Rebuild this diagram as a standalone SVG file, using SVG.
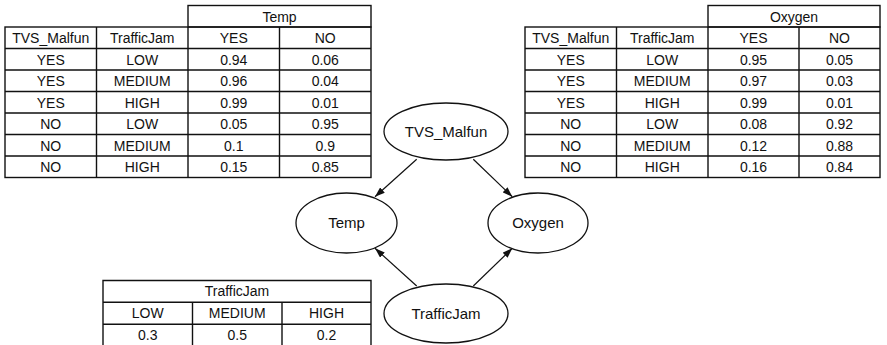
<svg xmlns="http://www.w3.org/2000/svg" width="887" height="345" viewBox="0 0 887 345">
  <style>
    .grid { fill: none; stroke: #111; stroke-width: 1.4; }
    .t { font-family: "Liberation Sans", Arial, Helvetica, sans-serif; font-size: 14px; fill: #111; text-anchor: middle; }
    .n { font-size: 15px; }
    .node ellipse { fill: #fff; stroke: #111; stroke-width: 1.3; }
    .edge { stroke: #111; stroke-width: 1.2; fill: none; marker-end: url(#arrow); }
  </style>
  <defs>
    <marker id="arrow" markerUnits="userSpaceOnUse" markerWidth="10" markerHeight="7" refX="10" refY="3.5" orient="auto">
      <path d="M0,0 L10,3.5 L0,7 z" fill="#111"/>
    </marker>
  </defs>
  <rect width="887" height="345" fill="#fff"/>

  <!-- CPT for Temp -->
  <g id="cpt-temp">
    <rect class="grid" x="188" y="5.5" width="183" height="21.5"/>
    <rect class="grid" x="5" y="27" width="366" height="150.5"/>
    <path class="grid" d="M5,48.5H371M5,70H371M5,91.5H371M5,113H371M5,134.5H371M5,156H371M96.5,27V177.5M188,27V177.5M279.5,27V177.5"/>
    <text class="t" x="279.5" y="21.5">Temp</text>
    <g>
      <text class="t" x="50.75" y="43.3">TVS_Malfun</text>
      <text class="t" x="142.25" y="43.3">TrafficJam</text>
      <text class="t" x="233.75" y="43.3">YES</text>
      <text class="t" x="325.25" y="43.3">NO</text>
    </g>
    <g>
      <text class="t" x="50.75" y="64.8">YES</text><text class="t" x="142.25" y="64.8">LOW</text><text class="t" x="233.75" y="64.8">0.94</text><text class="t" x="325.25" y="64.8">0.06</text>
      <text class="t" x="50.75" y="86.3">YES</text><text class="t" x="142.25" y="86.3">MEDIUM</text><text class="t" x="233.75" y="86.3">0.96</text><text class="t" x="325.25" y="86.3">0.04</text>
      <text class="t" x="50.75" y="107.8">YES</text><text class="t" x="142.25" y="107.8">HIGH</text><text class="t" x="233.75" y="107.8">0.99</text><text class="t" x="325.25" y="107.8">0.01</text>
      <text class="t" x="50.75" y="129.3">NO</text><text class="t" x="142.25" y="129.3">LOW</text><text class="t" x="233.75" y="129.3">0.05</text><text class="t" x="325.25" y="129.3">0.95</text>
      <text class="t" x="50.75" y="150.8">NO</text><text class="t" x="142.25" y="150.8">MEDIUM</text><text class="t" x="233.75" y="150.8">0.1</text><text class="t" x="325.25" y="150.8">0.9</text>
      <text class="t" x="50.75" y="172.3">NO</text><text class="t" x="142.25" y="172.3">HIGH</text><text class="t" x="233.75" y="172.3">0.15</text><text class="t" x="325.25" y="172.3">0.85</text>
    </g>
  </g>

  <!-- CPT for Oxygen -->
  <g id="cpt-oxygen">
    <rect class="grid" x="708" y="5.5" width="172" height="21.5"/>
    <rect class="grid" x="525" y="27" width="355" height="150.5"/>
    <path class="grid" d="M525,48.5H880M525,70H880M525,91.5H880M525,113H880M525,134.5H880M525,156H880M616.5,27V177.5M708,27V177.5M799,27V177.5"/>
    <text class="t" x="794" y="21.5">Oxygen</text>
    <g>
      <text class="t" x="570.75" y="43.3">TVS_Malfun</text>
      <text class="t" x="662.25" y="43.3">TrafficJam</text>
      <text class="t" x="753.5" y="43.3">YES</text>
      <text class="t" x="839.5" y="43.3">NO</text>
    </g>
    <g>
      <text class="t" x="570.75" y="64.8">YES</text><text class="t" x="662.25" y="64.8">LOW</text><text class="t" x="753.5" y="64.8">0.95</text><text class="t" x="839.5" y="64.8">0.05</text>
      <text class="t" x="570.75" y="86.3">YES</text><text class="t" x="662.25" y="86.3">MEDIUM</text><text class="t" x="753.5" y="86.3">0.97</text><text class="t" x="839.5" y="86.3">0.03</text>
      <text class="t" x="570.75" y="107.8">YES</text><text class="t" x="662.25" y="107.8">HIGH</text><text class="t" x="753.5" y="107.8">0.99</text><text class="t" x="839.5" y="107.8">0.01</text>
      <text class="t" x="570.75" y="129.3">NO</text><text class="t" x="662.25" y="129.3">LOW</text><text class="t" x="753.5" y="129.3">0.08</text><text class="t" x="839.5" y="129.3">0.92</text>
      <text class="t" x="570.75" y="150.8">NO</text><text class="t" x="662.25" y="150.8">MEDIUM</text><text class="t" x="753.5" y="150.8">0.12</text><text class="t" x="839.5" y="150.8">0.88</text>
      <text class="t" x="570.75" y="172.3">NO</text><text class="t" x="662.25" y="172.3">HIGH</text><text class="t" x="753.5" y="172.3">0.16</text><text class="t" x="839.5" y="172.3">0.84</text>
    </g>
  </g>

  <!-- prior for TrafficJam (runs past the bottom edge) -->
  <g id="cpt-trafficjam">
    <path class="grid" d="M103,348V280.5H371V348M103,302.3H371M103,324.2H371M192.5,302.3V348M282,302.3V348"/>
    <text class="t" x="237" y="296.4">TrafficJam</text>
    <text class="t" x="147.75" y="318.3">LOW</text>
    <text class="t" x="237.25" y="318.3">MEDIUM</text>
    <text class="t" x="326.5" y="318.3">HIGH</text>
    <text class="t" x="147.75" y="340">0.3</text>
    <text class="t" x="237.25" y="340">0.5</text>
    <text class="t" x="326.5" y="340">0.2</text>
  </g>

  <!-- arcs of the network -->
  <g id="connectors">
    <line class="edge" x1="416.7" y1="159.3" x2="375" y2="196.7"/>
    <line class="edge" x1="473.3" y1="159.3" x2="512.3" y2="196.7"/>
    <line class="edge" x1="416.7" y1="286" x2="375" y2="248.3"/>
    <line class="edge" x1="473.3" y1="286" x2="512.3" y2="248.3"/>
  </g>

  <!-- network nodes -->
  <g id="node-tvs" class="node">
    <ellipse cx="446" cy="131.5" rx="62" ry="28.5"/>
    <text class="t n" x="446" y="137">TVS_Malfun</text>
  </g>
  <g id="node-temp" class="node">
    <ellipse cx="346.5" cy="223" rx="50.5" ry="30"/>
    <text class="t n" x="346.5" y="228.3">Temp</text>
  </g>
  <g id="node-oxygen" class="node">
    <ellipse cx="538" cy="223" rx="50" ry="30"/>
    <text class="t n" x="538" y="228.3">Oxygen</text>
  </g>
  <g id="node-trafficjam" class="node">
    <ellipse cx="446" cy="313.5" rx="62" ry="29.5"/>
    <text class="t n" x="446" y="318.8">TrafficJam</text>
  </g>
</svg>
